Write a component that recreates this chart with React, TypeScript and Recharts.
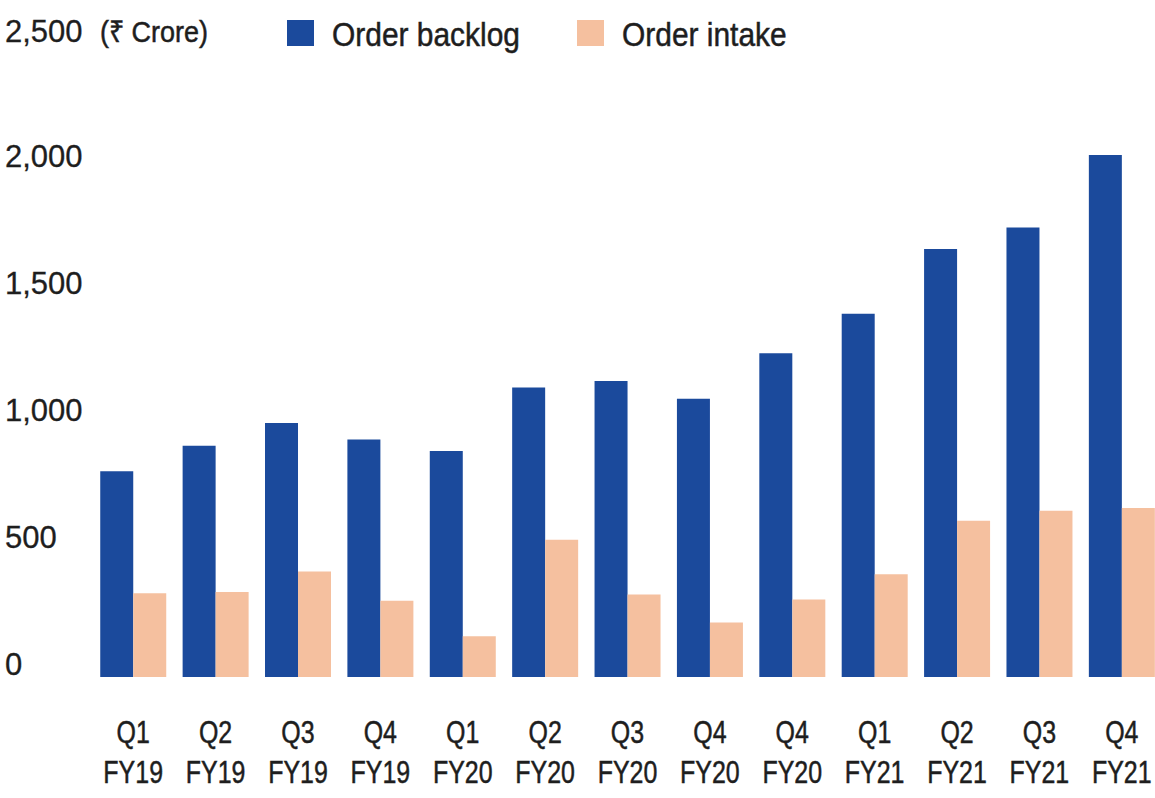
import { BarChart, Bar, XAxis, YAxis, Legend } from 'recharts';

const quarters = ['Q1 FY19', 'Q2 FY19', 'Q3 FY19', 'Q4 FY19', 'Q1 FY20', 'Q2 FY20', 'Q3 FY20', 'Q4 FY20', 'Q4 FY20 ', 'Q1 FY21', 'Q2 FY21', 'Q3 FY21', 'Q4 FY21'];
const orderBacklog = [810, 910, 1000, 935, 890, 1140, 1165, 1095, 1275, 1430, 1685, 1770, 2055];
const orderIntake = [330, 335, 415, 300, 160, 540, 325, 215, 305, 405, 615, 655, 665];
const yTicks = [0, 500, 1000, 1500, 2000, 2500];
const unitLabel = '(₹ Crore)';

const BLUE = '#1b4a9c';
const PEACH = '#f5c09f';
const INK = '#1e1e1e';
const SANS = '"Liberation Sans", Arial, sans-serif';

const data = quarters.map((q, i) => ({
  quarter: q,
  backlog: orderBacklog[i],
  intake: orderIntake[i],
}));

// narrow look: regular sans squeezed horizontally, a touch of stroke for weight
function NarrowText({ x, y, size, sx, anchor, children }: any) {
  return (
    <text
      transform={`translate(${x},${y}) scale(${sx},1)`}
      textAnchor={anchor || 'start'}
      fill={INK}
      stroke={INK}
      strokeWidth={0.5}
      fontSize={size}
      fontFamily={SANS}
    >
      {children}
    </text>
  );
}

function YTick({ y, payload }: any) {
  const v = payload.value as number;
  const base = v === 2500 ? y : y - 2;
  return (
    <g>
      <text x={5} y={base} fill={INK} stroke={INK} strokeWidth={0.3} fontSize={31} fontFamily={SANS}>
        {v.toLocaleString('en-US')}
      </text>
      {v === 2500 && (
        <NarrowText x={100} y={base} size={30} sx={0.9}>
          {unitLabel}
        </NarrowText>
      )}
    </g>
  );
}

function XTick({ x, y, payload }: any) {
  const [q, fy] = String(payload.value).trim().split(' ');
  return (
    <g>
      <NarrowText x={x} y={y + 66} size={32} sx={0.78} anchor="middle">{q}</NarrowText>
      <NarrowText x={x} y={y + 106} size={32} sx={0.78} anchor="middle">{fy}</NarrowText>
    </g>
  );
}

function LegendContent({ payload }: any) {
  return (
    <div style={{ display: 'flex', alignItems: 'center' }}>
      {(payload || []).map((p: any, i: number) => (
        <div key={i} style={{ display: 'flex', alignItems: 'center', width: i === 0 ? 290 : 230 }}>
          <span style={{ width: 27, height: 26, background: p.color, display: 'inline-block', marginRight: 18, flex: 'none' }} />
          <span
            style={{
              fontFamily: SANS,
              fontSize: 34,
              color: INK,
              display: 'inline-block',
              transform: 'scaleX(0.88)',
              transformOrigin: 'left center',
              whiteSpace: 'nowrap',
              WebkitTextStroke: '0.5px #1e1e1e',
              position: 'relative',
              top: 2,
            }}
          >
            {p.value}
          </span>
        </div>
      ))}
    </div>
  );
}

export default function App() {
  return (
    <div style={{ position: 'fixed', left: 0, top: 0, width: 1155, height: 798, overflow: 'hidden', background: '#fff' }}>
      <BarChart
        width={1163}
        height={798}
        data={data}
        margin={{ top: 42, right: 0, left: 0, bottom: 0 }}
        barCategoryGap="10%"
        barGap={0}
      >
        <XAxis
          dataKey="quarter"
          axisLine={false}
          tickLine={false}
          tickSize={0}
          tickMargin={0}
          height={121}
          interval={0}
          tick={<XTick />}
        />
        <YAxis
          domain={[0, 2500]}
          ticks={yTicks}
          axisLine={false}
          tickLine={false}
          width={92}
          tick={<YTick />}
        />
        <Legend
          verticalAlign="middle"
          layout="horizontal"
          wrapperStyle={{ top: 13, left: 287, width: 'auto' }}
          content={<LegendContent />}
        />
        <Bar dataKey="backlog" name="Order backlog" fill={BLUE} isAnimationActive={false} />
        <Bar dataKey="intake" name="Order intake" fill={PEACH} isAnimationActive={false} />
      </BarChart>
    </div>
  );
}
